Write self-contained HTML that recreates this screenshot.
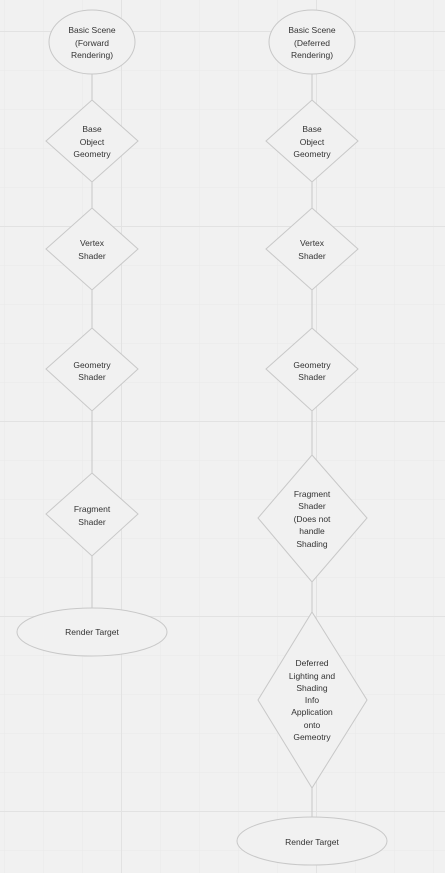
<!DOCTYPE html>
<html><head><style>
html,body{margin:0;padding:0;background:#f1f1f1;}
svg{display:block;}
text{font-family:"Liberation Sans",sans-serif;font-size:8.5px;fill:#333;text-anchor:middle;}
</style></head><body>
<svg width="445" height="873" viewBox="0 0 445 873">
<defs>
<pattern id="g" width="39" height="39" patternUnits="userSpaceOnUse" x="4" y="31">
<path d="M0 0H39M0 0V39" stroke="#e9e9e9" stroke-width="1" fill="none"/>
</pattern>
</defs>
<rect width="445" height="873" fill="url(#g)"/>
<g stroke="#e2e2e2" stroke-width="1">
<line x1="0" y1="31.5" x2="445" y2="31.5"/><line x1="0" y1="226.5" x2="445" y2="226.5"/>
<line x1="0" y1="421.5" x2="445" y2="421.5"/><line x1="0" y1="616.5" x2="445" y2="616.5"/>
<line x1="0" y1="811.5" x2="445" y2="811.5"/>
<line x1="121.5" y1="0" x2="121.5" y2="873"/><line x1="316.5" y1="0" x2="316.5" y2="873"/>
</g>
<g stroke="#c8c8c8" stroke-width="1" fill="#f1f1f1">
<line x1="92" y1="74" x2="92" y2="608"/>
<line x1="312" y1="74" x2="312" y2="817"/>
<ellipse cx="92" cy="42" rx="43" ry="32"/>
<polygon points="92,100 138,141 92,182 46,141"/>
<polygon points="92,208 138,249 92,290 46,249"/>
<polygon points="92,328 138,369 92,411 46,369"/>
<polygon points="92,473 138,514 92,556 46,514"/>
<ellipse cx="92" cy="632" rx="75" ry="24"/>
<ellipse cx="312" cy="42" rx="43" ry="32"/>
<polygon points="312,100 358,141 312,182 266,141"/>
<polygon points="312,208 358,249 312,290 266,249"/>
<polygon points="312,328 358,369 312,411 266,369"/>
<polygon points="312,455 367,518 312,582 258,518"/>
<polygon points="312,612 367,700 312,788 258,700"/>
<ellipse cx="312" cy="841" rx="75" ry="24"/>
</g>
<text x="92" y="33">Basic Scene</text><text x="92" y="46">(Forward</text><text x="92" y="58">Rendering)</text>
<text x="92" y="132">Base</text><text x="92" y="145">Object</text><text x="92" y="157">Geometry</text>
<text x="92" y="246">Vertex</text><text x="92" y="259">Shader</text>
<text x="92" y="368">Geometry</text><text x="92" y="380">Shader</text>
<text x="92" y="512">Fragment</text><text x="92" y="525">Shader</text>
<text x="92" y="635">Render Target</text>
<text x="312" y="33">Basic Scene</text><text x="312" y="46">(Deferred</text><text x="312" y="58">Rendering)</text>
<text x="312" y="132">Base</text><text x="312" y="145">Object</text><text x="312" y="157">Geometry</text>
<text x="312" y="246">Vertex</text><text x="312" y="259">Shader</text>
<text x="312" y="368">Geometry</text><text x="312" y="380">Shader</text>
<text x="312" y="497">Fragment</text><text x="312" y="509">Shader</text><text x="312" y="522">(Does not</text><text x="312" y="534">handle</text><text x="312" y="547">Shading</text>
<text x="312" y="666">Deferred</text><text x="312" y="679">Lighting and</text><text x="312" y="691">Shading</text><text x="312" y="703">Info</text><text x="312" y="715">Application</text><text x="312" y="728">onto</text><text x="312" y="740">Gemeotry</text>
<text x="312" y="845">Render Target</text>
</svg>
</body></html>
